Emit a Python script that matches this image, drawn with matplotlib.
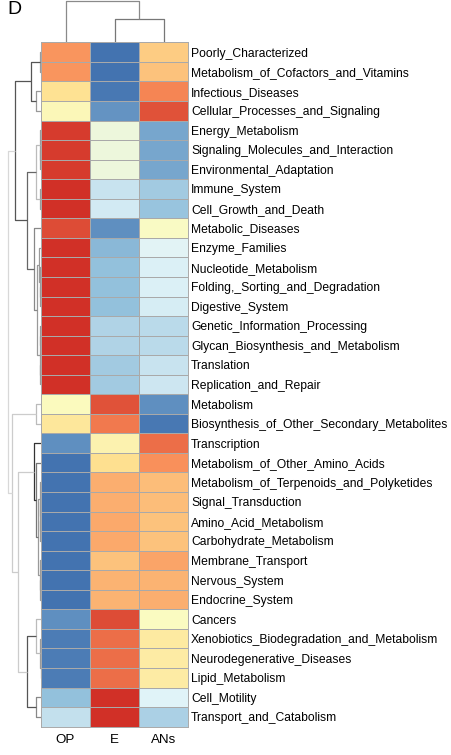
import matplotlib
matplotlib.use("Agg")
import matplotlib.pyplot as plt
from matplotlib.colors import LinearSegmentedColormap
import numpy as np

plt.rcParams["font.family"] = ["Liberation Sans", "DejaVu Sans"]

amostras = ["OP", "E", "ANs"]
vias = ["Poorly_Characterized", "Metabolism_of_Cofactors_and_Vitamins", "Infectious_Diseases",
        "Cellular_Processes_and_Signaling", "Energy_Metabolism", "Signaling_Molecules_and_Interaction",
        "Environmental_Adaptation", "Immune_System", "Cell_Growth_and_Death", "Metabolic_Diseases",
        "Enzyme_Families", "Nucleotide_Metabolism", "Folding,_Sorting_and_Degradation",
        "Digestive_System", "Genetic_Information_Processing", "Glycan_Biosynthesis_and_Metabolism",
        "Translation", "Replication_and_Repair", "Metabolism",
        "Biosynthesis_of_Other_Secondary_Metabolites", "Transcription",
        "Metabolism_of_Other_Amino_Acids", "Metabolism_of_Terpenoids_and_Polyketides",
        "Signal_Transduction", "Amino_Acid_Metabolism", "Carbohydrate_Metabolism",
        "Membrane_Transport", "Nervous_System", "Endocrine_System", "Cancers",
        "Xenobiotics_Biodegradation_and_Metabolism", "Neurodegenerative_Diseases",
        "Lipid_Metabolism", "Cell_Motility", "Transport_and_Catabolism"]

# abundancia padronizada por linha (z-score)
z_op = [0.72, 0.72, 0.35, 0.05, 1.10, 1.10, 1.10, 1.15, 1.15, 1.03,
        1.15, 1.15, 1.15, 1.15, 1.15, 1.15, 1.15, 1.15, 0.00, 0.30,
        -1.00, -1.15, -1.15, -1.15, -1.15, -1.15, -1.15, -1.15, -1.15, -1.00,
        -1.10, -1.10, -1.10, -0.75, -0.52]
z_e = [-1.15, -1.15, -1.13, -0.98, -0.20, -0.20, -0.20, -0.50, -0.45, -1.00,
       -0.80, -0.75, -0.75, -0.76, -0.62, -0.62, -0.67, -0.67, 1.00, 0.85,
       0.12, 0.38, 0.62, 0.62, 0.63, 0.63, 0.52, 0.60, 0.60, 1.02,
       0.88, 0.90, 0.90, 1.15, 1.15]
z_ans = [0.48, 0.52, 0.80, 1.00, -0.90, -0.90, -0.90, -0.68, -0.72, -0.03,
         -0.35, -0.40, -0.40, -0.42, -0.56, -0.56, -0.50, -0.48, -1.00, -1.12,
         0.90, 0.75, 0.55, 0.55, 0.53, 0.53, 0.65, 0.58, 0.62, -0.02,
         0.25, 0.22, 0.22, -0.38, -0.64]

# agrupamento das linhas: nome -> (altura, esquerda, direita)
arvore_linhas = {
    "n56": (0.8, 5, 6), "n4_6": (1.2, 4, "n56"), "n78": (1.2, 7, 8),
    "n4_8": (5, "n4_6", "n78"),
    "n1213": (0.8, 12, 13), "n11_13": (1.2, 11, "n1213"), "n10_13": (1.8, 10, "n11_13"),
    "n1415": (0.6, 14, 15), "n1617": (0.8, 16, 17), "n14_17": (1.5, "n1415", "n1617"),
    "n10_17": (4, "n10_13", "n14_17"), "n9_17": (7, 9, "n10_17"),
    "B": (14, "n4_8", "n9_17"),
    "n01": (1, 0, 1), "n23": (5, 2, 3), "n0_3": (10, "n01", "n23"),
    "A": (26, "n0_3", "B"),
    "n1819": (5, 18, 19),
    "n2425": (0.6, 24, 25), "n23_25": (1.0, 23, "n2425"), "n22_25": (1.5, 22, "n23_25"),
    "n2728": (0.7, 27, 28), "n26_28": (1.2, 26, "n2728"), "G": (3, "n22_25", "n26_28"),
    "F": (5, 21, "G"), "E": (7, 20, "F"),
    "n3132": (0.5, 31, 32), "n30_32": (1.2, 30, "n3132"), "I": (5, 29, "n30_32"),
    "n3334": (5, 33, 34), "H": (14, "I", "n3334"),
    "D": (23, "E", "H"), "C": (29, "n1819", "D"),
    "raiz": (33, "A", "C"),
}
arvore_colunas = {"eans": (23.3, 1, 2), "raiz": (41.6, 0, "eans")}

cor_linhas = {"raiz": "#d8d8d8", "A": "#555555", "n0_3": "#555555", "n23": "#999999",
              "B": "#666666", "n4_8": "#bbbbbb", "n9_17": "#888888", "n10_17": "#999999",
              "C": "#cccccc", "D": "#cccccc", "E": "#333333", "F": "#777777",
              "n1819": "#bbbbbb", "H": "#555555", "I": "#bbbbbb", "n3334": "#888888"}
cor_colunas = {"raiz": "#8a8a8a", "eans": "#777777"}


def _ramo(ax, arvore, cores, no, vertical):
    if isinstance(no, int):
        return no + 0.5, 0.0
    h, esq, dir_ = arvore[no]
    pe, he = _ramo(ax, arvore, cores, esq, vertical)
    pd_, hd = _ramo(ax, arvore, cores, dir_, vertical)
    c = cores.get(no, "#9a9a9a")
    xs, ys = [he, h, h, hd], [pe, pe, pd_, pd_]
    if vertical:
        ax.plot(xs, ys, color=c, lw=0.9, solid_capstyle="butt")
    else:
        ax.plot(ys, xs, color=c, lw=0.9, solid_capstyle="butt")
    return (pe + pd_) / 2, h


W, H = 451, 755
fig = plt.figure(figsize=(W / 100, H / 100), dpi=100)
x0, x1, y0, y1 = 41, 188, 42.3, 726.7

ax = fig.add_axes([x0 / W, 1 - y1 / H, (x1 - x0) / W, (y1 - y0) / H])
cores_rdylbu = ["#4373B0", "#91BFDB", "#E0F3F8", "#FBFBBF", "#FEE090", "#F98D59", "#D13027"]
cmap = LinearSegmentedColormap.from_list("rdylbu_r", cores_rdylbu, N=100)
mat = np.column_stack([z_op, z_e, z_ans])
ax.pcolormesh(mat, cmap=cmap, vmin=-1.155, vmax=1.155, edgecolors="#a9a9a9", linewidth=0.7)
ax.set_xlim(0, 3); ax.set_ylim(len(vias), 0)
ax.set_xticks(np.arange(3) + 0.5); ax.set_xticklabels(amostras, fontsize=9.6)
ax.set_yticks(np.arange(len(vias)) + 0.5); ax.set_yticklabels(vias, fontsize=8.7)
ax.yaxis.tick_right()
ax.tick_params(length=0)
ax.tick_params(axis="y", pad=2.2)
ax.tick_params(axis="x", pad=5)
for s in ax.spines.values():
    s.set_color("#a9a9a9"); s.set_linewidth(0.7)

axl = fig.add_axes([0, 1 - y1 / H, x0 / W, (y1 - y0) / H])
_ramo(axl, arvore_linhas, cor_linhas, "raiz", vertical=True)
axl.set_xlim(x0, 0); axl.set_ylim(len(vias), 0); axl.axis("off")

axt = fig.add_axes([x0 / W, 1 - y0 / H, (x1 - x0) / W, y0 / H])
_ramo(axt, arvore_colunas, cor_colunas, "raiz", vertical=False)
axt.set_xlim(0, 3); axt.set_ylim(0, y0); axt.axis("off")

fig.text(7 / W, 1 - 14.5 / H, "D", fontsize=14, va="baseline", ha="left")

fig.savefig("out.png", dpi=100)
